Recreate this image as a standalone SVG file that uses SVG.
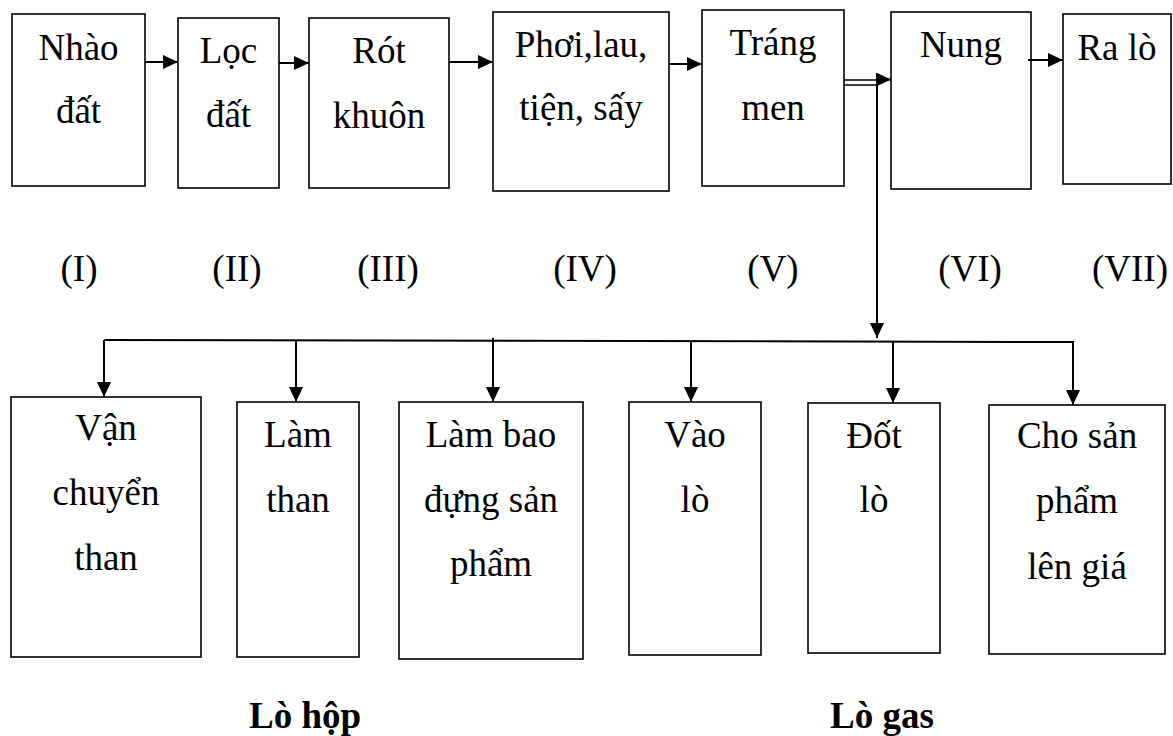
<svg xmlns="http://www.w3.org/2000/svg" width="1173" height="736" viewBox="0 0 1173 736">
  <style>
    .box { fill: #ffffff; stroke: #000000; stroke-width: 1.6; }
    .lbl { font-family: 'Liberation Serif', 'DejaVu Serif', serif; font-size: 37px; fill: #000000; text-anchor: middle; }
    .cap { font-family: 'Liberation Serif', 'DejaVu Serif', serif; font-size: 37px; font-weight: bold; fill: #000000; text-anchor: middle; }
    .wire { fill: none; stroke: #000000; stroke-width: 2; }
    .wire-thin { fill: none; stroke: #000000; stroke-width: 1.6; }
  </style>
  <defs>
    <marker id="arrow" markerUnits="userSpaceOnUse" markerWidth="15" markerHeight="14" refX="15" refY="7" orient="auto">
      <path d="M0,0 L15,7 L0,14 z" fill="#000000"/>
    </marker>
  </defs>
  <rect width="1173" height="736" fill="#ffffff"/>

  <g font-family="Liberation Serif, DejaVu Serif, serif">
  <!-- main process row -->
  <g id="nhao-dat">
    <rect class="box" x="12" y="14" width="133" height="172"/>
    <text class="lbl" x="78.5" y="60">Nhào</text>
    <text class="lbl" x="78.5" y="123">đất</text>
  </g>
  <g id="loc-dat">
    <rect class="box" x="178" y="18" width="101" height="170"/>
    <text class="lbl" x="228.5" y="63">Lọc</text>
    <text class="lbl" x="228.5" y="127">đất</text>
  </g>
  <g id="rot-khuon">
    <rect class="box" x="309" y="18" width="140" height="170"/>
    <text class="lbl" x="379" y="63">Rót</text>
    <text class="lbl" x="379" y="128">khuôn</text>
  </g>
  <g id="phoi-lau">
    <rect class="box" x="493" y="12" width="176" height="179"/>
    <text class="lbl" x="581" y="57">Phơi,lau,</text>
    <text class="lbl" x="581" y="120">tiện, sấy</text>
  </g>
  <g id="trang-men">
    <rect class="box" x="702" y="10" width="142" height="176"/>
    <text class="lbl" x="773" y="55">Tráng</text>
    <text class="lbl" x="773" y="120">men</text>
  </g>
  <g id="nung">
    <rect class="box" x="891" y="12" width="140" height="177"/>
    <text class="lbl" x="961" y="57">Nung</text>
  </g>
  <g id="ra-lo">
    <rect class="box" x="1063" y="14" width="108" height="170"/>
    <text class="lbl" x="1117" y="60">Ra lò</text>
  </g>

  <!-- stage numbers -->
  <g id="stage-numbers">
    <text class="lbl" x="79" y="281">(I)</text>
    <text class="lbl" x="237" y="281">(II)</text>
    <text class="lbl" x="388" y="281">(III)</text>
    <text class="lbl" x="585" y="281">(IV)</text>
    <text class="lbl" x="773" y="281">(V)</text>
    <text class="lbl" x="970" y="281">(VI)</text>
    <text class="lbl" x="1130" y="281">(VII)</text>
  </g>

  <!-- firing sub-steps -->
  <g id="van-chuyen-than">
    <rect class="box" x="11" y="397" width="190" height="260"/>
    <text class="lbl" x="106" y="440">Vận</text>
    <text class="lbl" x="106" y="505">chuyển</text>
    <text class="lbl" x="106" y="570">than</text>
  </g>
  <g id="lam-than">
    <rect class="box" x="237" y="402" width="122" height="255"/>
    <text class="lbl" x="298" y="447">Làm</text>
    <text class="lbl" x="298" y="512">than</text>
  </g>
  <g id="lam-bao">
    <rect class="box" x="399" y="402" width="184" height="257"/>
    <text class="lbl" x="491" y="447">Làm bao</text>
    <text class="lbl" x="491" y="512">đựng sản</text>
    <text class="lbl" x="491" y="576">phẩm</text>
  </g>
  <g id="vao-lo">
    <rect class="box" x="629" y="402" width="132" height="253"/>
    <text class="lbl" x="695" y="447">Vào</text>
    <text class="lbl" x="695" y="512">lò</text>
  </g>
  <g id="dot-lo">
    <rect class="box" x="808" y="403" width="132" height="250"/>
    <text class="lbl" x="874" y="448">Đốt</text>
    <text class="lbl" x="874" y="512">lò</text>
  </g>
  <g id="cho-san-pham">
    <rect class="box" x="989" y="405" width="176" height="249"/>
    <text class="lbl" x="1077" y="448">Cho sản</text>
    <text class="lbl" x="1077" y="513">phẩm</text>
    <text class="lbl" x="1077" y="579">lên giá</text>
  </g>

  <!-- kiln group captions -->
  <g id="captions">
    <text class="cap" x="305" y="728">Lò hộp</text>
    <text class="cap" x="882" y="728">Lò gas</text>
  </g>
  </g>

  <!-- connectors -->
  <g id="connectors">
    <line class="wire" x1="145" y1="62" x2="178" y2="62" marker-end="url(#arrow)"/>
    <line class="wire" x1="279" y1="63" x2="309" y2="63" marker-end="url(#arrow)"/>
    <line class="wire" x1="449" y1="62" x2="493" y2="62" marker-end="url(#arrow)"/>
    <line class="wire" x1="669" y1="64" x2="702" y2="64" marker-end="url(#arrow)"/>
    <line class="wire" x1="1028" y1="60" x2="1063" y2="60" marker-end="url(#arrow)"/>

    <!-- double line from glazing to firing -->
    <line class="wire-thin" x1="844" y1="80" x2="880" y2="80"/>
    <line class="wire-thin" x1="844" y1="85" x2="878" y2="85"/>
    <line class="wire" x1="876" y1="79.5" x2="891" y2="79.5" marker-end="url(#arrow)"/>

    <!-- drop to the firing sub-steps -->
    <line class="wire" x1="877" y1="84" x2="877" y2="338" marker-end="url(#arrow)"/>
    <line class="wire" x1="104" y1="340" x2="1074" y2="342"/>

    <line class="wire" x1="104" y1="340" x2="104" y2="397" marker-end="url(#arrow)"/>
    <line class="wire" x1="296" y1="341" x2="296" y2="402" marker-end="url(#arrow)"/>
    <line class="wire" x1="493" y1="338" x2="493" y2="402" marker-end="url(#arrow)"/>
    <line class="wire" x1="691" y1="341" x2="691" y2="402" marker-end="url(#arrow)"/>
    <line class="wire" x1="893" y1="341" x2="893" y2="403" marker-end="url(#arrow)"/>
    <line class="wire" x1="1073" y1="342" x2="1073" y2="405" marker-end="url(#arrow)"/>
  </g>
</svg>
